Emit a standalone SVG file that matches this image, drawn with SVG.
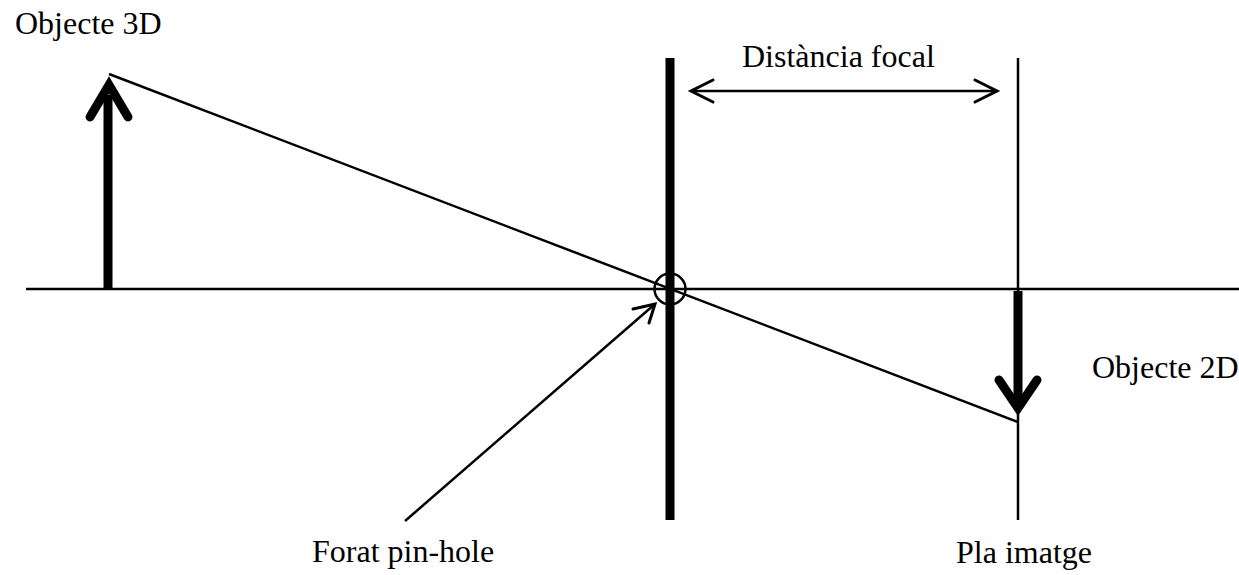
<svg xmlns="http://www.w3.org/2000/svg" width="1239" height="575" viewBox="0 0 1239 575">
<style>
.thin{stroke:#000;stroke-width:2.5;fill:none}
.thick{stroke:#000;stroke-width:9;fill:none}
.head{stroke:#000;stroke-width:9;fill:none;stroke-linecap:round;stroke-linejoin:miter;stroke-miterlimit:10}
.open{stroke:#000;stroke-width:3;fill:none;stroke-linecap:round}
text{font-family:"Liberation Serif","Times New Roman",serif;font-size:32px;fill:#000}
</style>
<rect width="1239" height="575" fill="#fff"/>
<g id="axis"><line class="thin" x1="26" y1="289" x2="1239" y2="289"/></g>
<g id="pinhole-plane"><line class="thick" x1="670" y1="58" x2="670" y2="520"/><circle class="thin" cx="670" cy="289" r="15.5"/></g>
<g id="image-plane"><line class="thin" x1="1018" y1="58" x2="1018" y2="520"/></g>
<g id="object-3d">
<line class="thick" x1="108" y1="289" x2="108" y2="95"/>
<polyline class="head" points="90,117 109,85 128,117"/>
<text x="15" y="34">Objecte 3D</text>
</g>
<g id="object-2d">
<line class="thick" x1="1018" y1="291" x2="1018" y2="400"/>
<polyline class="head" points="999,380 1018,408 1037,380"/>
<text x="1092" y="378">Objecte 2D</text>
</g>
<g id="connectors">
<line class="thin" x1="109" y1="74" x2="1018" y2="422"/>
<line class="thin" x1="405" y1="521" x2="655" y2="304"/>
<polyline class="open" points="633,309 655,304 649,323"/>
<line class="thin" x1="691" y1="91" x2="997" y2="91"/>
<polyline class="open" points="713,80 691,91 713,102"/>
<polyline class="open" points="975,80 997,91 975,102"/>
</g>
<g id="labels">
<text x="742" y="67">Distància focal</text>
<text x="312" y="562">Forat pin-hole</text>
<text x="956" y="563">Pla imatge</text>
</g>
</svg>
